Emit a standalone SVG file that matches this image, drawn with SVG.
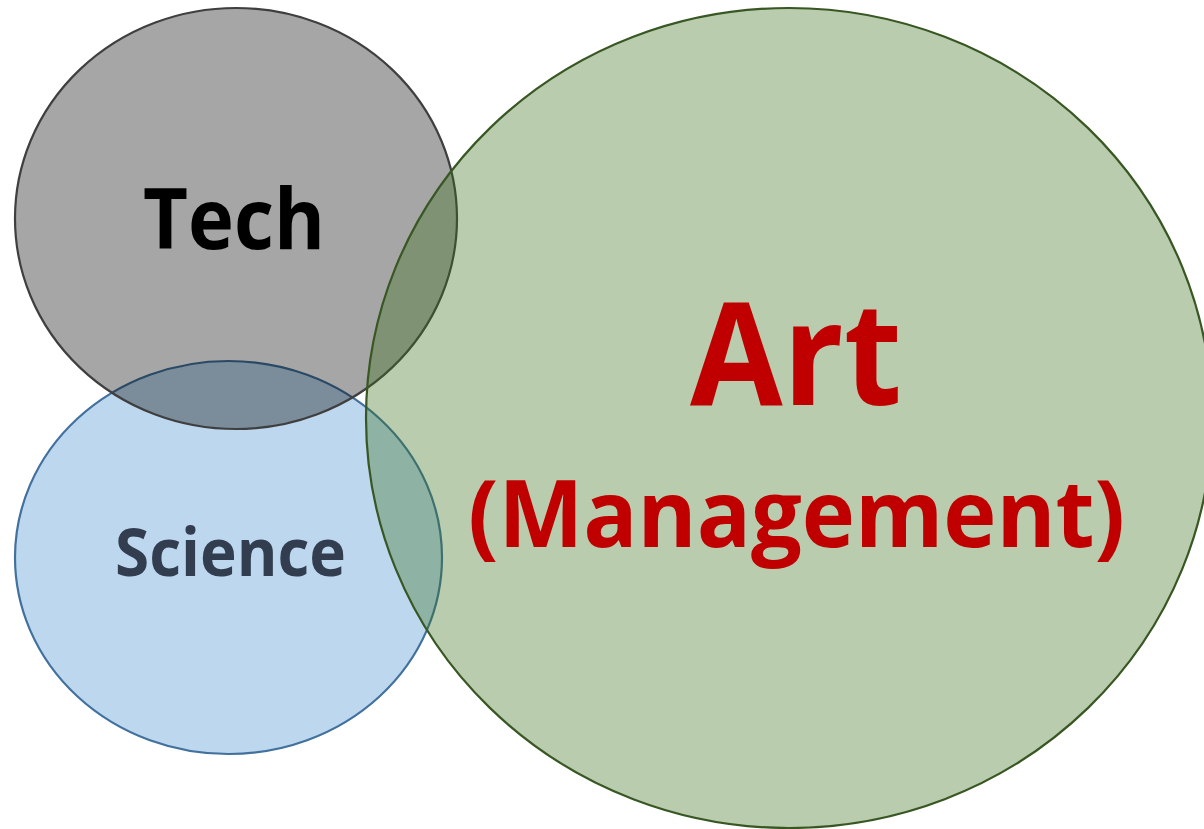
<svg xmlns="http://www.w3.org/2000/svg" width="1204" height="829" viewBox="0 0 1204 829">
  <style>
    .lbl { font-family: "Open Sans", "Noto Sans", "Liberation Sans", sans-serif; font-weight: bold; text-anchor: middle; }
    .circ { stroke-width: 2.2; }
  </style>
  <rect width="1204" height="829" fill="#ffffff"/>
  <g id="science">
    <ellipse class="circ" cx="228.5" cy="557.5" rx="213.5" ry="196.5" fill="#bdd7ee" stroke="#41719c"/>
  </g>
  <g id="tech">
    <ellipse class="circ" cx="236" cy="218.5" rx="221" ry="210.5" fill="#000000" fill-opacity="0.35" stroke="#3f3f3f"/>
  </g>
  <g id="art">
    <ellipse class="circ" cx="789" cy="418" rx="423" ry="410" fill="rgb(60,113,28)" fill-opacity="0.356" stroke="#385723"/>
  </g>
  <g id="labels">
    <text class="lbl" x="234" y="249" font-size="85" fill="#000000" textLength="182" lengthAdjust="spacingAndGlyphs">Tech</text>
    <text class="lbl" x="230.5" y="576" font-size="67" fill="#323e50" textLength="231" lengthAdjust="spacingAndGlyphs">Science</text>
    <text class="lbl" x="796" y="405" font-size="143" fill="#c00000" textLength="212" lengthAdjust="spacingAndGlyphs">Art</text>
    <text class="lbl" x="796.5" y="547" font-size="94" fill="#c00000" textLength="657" lengthAdjust="spacingAndGlyphs">(Management)</text>
  </g>
  <g id="connectors"/>
</svg>
